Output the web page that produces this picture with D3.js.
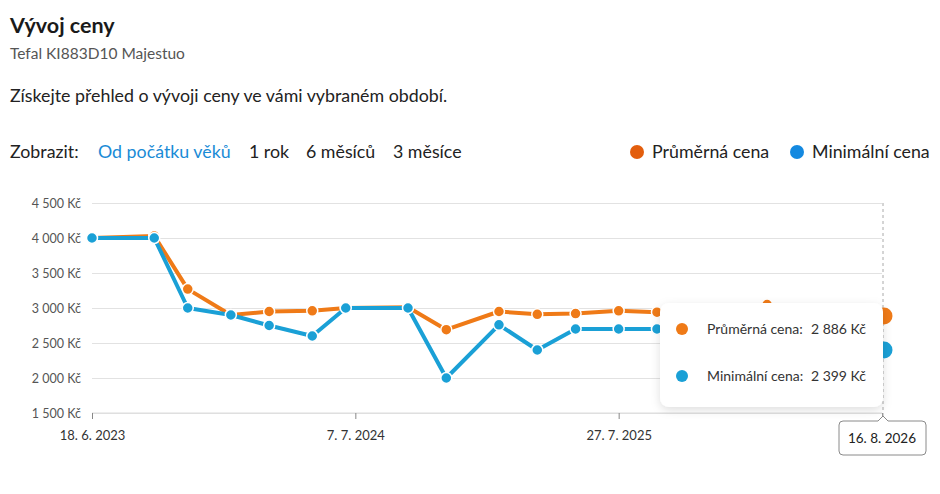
<!DOCTYPE html>
<html lang="cs">
<head>
<meta charset="utf-8">
<script src="https://cdn.jsdelivr.net/npm/d3@7/dist/d3.min.js"></script>
<style>
  body { margin: 0; background: #fff; }
  svg { display: block; font-family: Lato, "Open Sans", sans-serif; }
</style>
</head>
<body>
<svg id="chart" width="940" height="494"></svg>
<script>
// data
const dates = ["2023-06-18", "2023-09-17", "2023-11-05", "2024-01-07", "2024-03-03", "2024-05-05",
  "2024-06-23", "2024-09-22", "2024-11-17", "2025-02-02", "2025-03-30", "2025-05-25",
  "2025-07-27", "2025-09-21", "2026-03-01", "2026-08-16"]
const avgPrice = [4000, 4030, 3270, 2900, 2950, 2960, 3000, 3010, 2690, 2950, 2910, 2920, 2960, 2940, 3050, 2886]
const minPrice = [4000, 4000, 3000, 2900, 2750, 2600, 3000, 3000, 2000, 2760, 2400, 2700, 2700, 2700, 2700, 2399]
const yTicks = [1500, 2000, 2500, 3000, 3500, 4000, 4500]
const xTicks = ["2023-06-18", "2024-07-07", "2025-07-27", "2026-08-16"]
const periods = ["Od počátku věků", "1 rok", "6 měsíců", "3 měsíce"]
const seriesNames = ["Průměrná cena", "Minimální cena"]

const orange = '#ef7a17'
const blue = '#1aa0d6'

const parse = d3.timeParse('%Y-%m-%d')
const fmtKc = v => d3.format(',')(v).replace(/,/g, ' ') + ' Kč'
const fmtDate = d => `${d.getDate()}. ${d.getMonth() + 1}. ${d.getFullYear()}`

const svg = d3.select('#chart')

// header
svg.append('text').attr('x', 10).attr('y', 33)
  .style('font-size', '21.5px').style('font-weight', 700).attr('fill', '#1a1a1a').text('Vývoj ceny')
svg.append('text').attr('x', 10).attr('y', 59)
  .style('font-size', '15.5px').attr('fill', '#555').text('Tefal KI883D10 Majestuo')
svg.append('text').attr('x', 10).attr('y', 102)
  .style('font-size', '17.8px').attr('fill', '#222').text('Získejte přehled o vývoji ceny ve vámi vybraném období.')

svg.append('text').attr('x', 10).attr('y', 158)
  .style('font-size', '17.8px').attr('fill', '#222').text('Zobrazit:')
const periodX = [98, 249, 306, 393]
svg.selectAll('text.period')
  .data(periods)
  .enter()
  .append('text')
  .attr('class', 'period')
  .attr('x', (d, i) => periodX[i])
  .attr('y', 158)
  .style('font-size', '17.8px')
  .attr('fill', (d, i) => i === 0 ? '#1a8bd6' : '#222')
  .text(d => d)

// legend
const legendX = [637, 797]
const legendCol = ['#e35e0d', '#1489e0']
const legend = svg.selectAll('g.legend')
  .data(seriesNames)
  .enter()
  .append('g')
  .attr('class', 'legend')
legend.append('circle')
  .attr('cx', (d, i) => legendX[i]).attr('cy', 152).attr('r', 7)
  .attr('fill', (d, i) => legendCol[i])
legend.append('text')
  .attr('x', (d, i) => legendX[i] + 15).attr('y', 158)
  .style('font-size', '17.8px').attr('fill', '#222')
  .text(d => d)

// scales
const x = d3.scaleTime()
  .domain([parse(xTicks[0]), parse(xTicks[xTicks.length - 1])])
  .range([92, 882])
const y = d3.scaleLinear().domain([1500, 4500]).range([413, 203])

// grid + y labels
const yAxis = svg.append('g')
  .attr('transform', 'translate(92,0)')
  .call(d3.axisLeft(y).tickValues(yTicks).tickSize(-790).tickFormat(fmtKc).tickPadding(11))
yAxis.select('.domain').remove()
yAxis.selectAll('line').attr('stroke', '#e2e2e2').attr('stroke-width', 1)
yAxis.selectAll('text').attr('fill', '#555').style('font-size', '12.5px').style('font-family', 'Lato, sans-serif')

// x axis
const xAxis = svg.append('g')
  .attr('transform', 'translate(0,413)')
  .call(d3.axisBottom(x).tickValues(xTicks.map(parse)).tickSize(6).tickFormat(fmtDate).tickPadding(12))
xAxis.select('.domain').attr('stroke', '#dcdcdc').attr('d', 'M92,0H882')
xAxis.selectAll('line').attr('stroke', '#888')
xAxis.selectAll('text').attr('fill', '#333').style('font-size', '13px').style('font-family', 'Lato, sans-serif')
xAxis.selectAll('.tick').filter((d, i) => i === xTicks.length - 1).select('text').remove()

// hover line
const lastDate = parse(dates[dates.length - 1])
svg.append('line')
  .attr('x1', x(lastDate) + 1).attr('x2', x(lastDate) + 1)
  .attr('y1', 203).attr('y2', 418)
  .attr('stroke', '#aaa').attr('stroke-dasharray', '3,3')

// series
const series = [
  { name: seriesNames[0], values: avgPrice, color: orange },
  { name: seriesNames[1], values: minPrice, color: blue }
]
const line = d3.line().x(d => x(d.date)).y(d => y(d.value))

series.forEach(s => {
  const pts = dates.map((d, i) => ({ date: parse(d), value: s.values[i], last: i === dates.length - 1 }))
  const g = svg.append('g')
  g.append('path')
    .datum(pts)
    .attr('d', line)
    .attr('fill', 'none')
    .attr('stroke', s.color)
    .attr('stroke-width', 4)
    .attr('stroke-linejoin', 'round')
  g.selectAll('circle')
    .data(pts)
    .enter()
    .append('circle')
    .attr('cx', d => x(d.date) + (d.last ? 2 : 0))
    .attr('cy', d => y(d.value))
    .attr('r', d => d.last ? 8.5 : 5.5)
    .attr('fill', s.color)
    .attr('stroke', d => d.last ? 'none' : '#fff')
    .attr('stroke-width', 1.5)
})

// shadow
const defs = svg.append('defs')
const f = defs.append('filter').attr('id', 'shadow').attr('x', '-20%').attr('y', '-20%').attr('width', '140%').attr('height', '150%')
f.append('feDropShadow').attr('dx', 0).attr('dy', 3).attr('stdDeviation', 5).attr('flood-color', '#000').attr('flood-opacity', 0.13)

// tooltip
const tip = svg.append('g')
tip.append('rect')
  .attr('x', 660).attr('y', 303).attr('width', 223).attr('height', 104)
  .attr('rx', 9).attr('fill', '#fff').attr('filter', 'url(#shadow)')
const tipRows = tip.selectAll('g.row')
  .data(series)
  .enter()
  .append('g')
  .attr('class', 'row')
  .attr('transform', (d, i) => `translate(0,${329 + i * 47})`)
tipRows.append('circle').attr('cx', 682).attr('cy', 0).attr('r', 6).attr('fill', d => d.color)
tipRows.append('text').attr('x', 707).attr('y', 5)
  .style('font-size', '14px').attr('fill', '#333').text(d => d.name + ':')
tipRows.append('text').attr('x', 866).attr('y', 5).attr('text-anchor', 'end')
  .style('font-size', '14px').attr('fill', '#333').text(d => fmtKc(d.values[d.values.length - 1]))

// date label
const lx = x(lastDate) + 1
const lab = svg.append('g')
lab.append('path')
  .attr('d', `M${lx - 44},425 Q${lx - 44},421 ${lx - 40},421 H${lx - 5} L${lx},416 L${lx + 5},421 H${lx + 39} Q${lx + 43},421 ${lx + 43},425 V451 Q${lx + 43},455 ${lx + 39},455 H${lx - 40} Q${lx - 44},455 ${lx - 44},451 Z`)
  .attr('fill', '#fff').attr('stroke', '#8a8a8a').attr('stroke-width', 1)
lab.append('text').attr('x', lx - 1).attr('y', 443).attr('text-anchor', 'middle')
  .style('font-size', '13.5px').attr('fill', '#222').text(fmtDate(lastDate))
</script>
</body>
</html>
